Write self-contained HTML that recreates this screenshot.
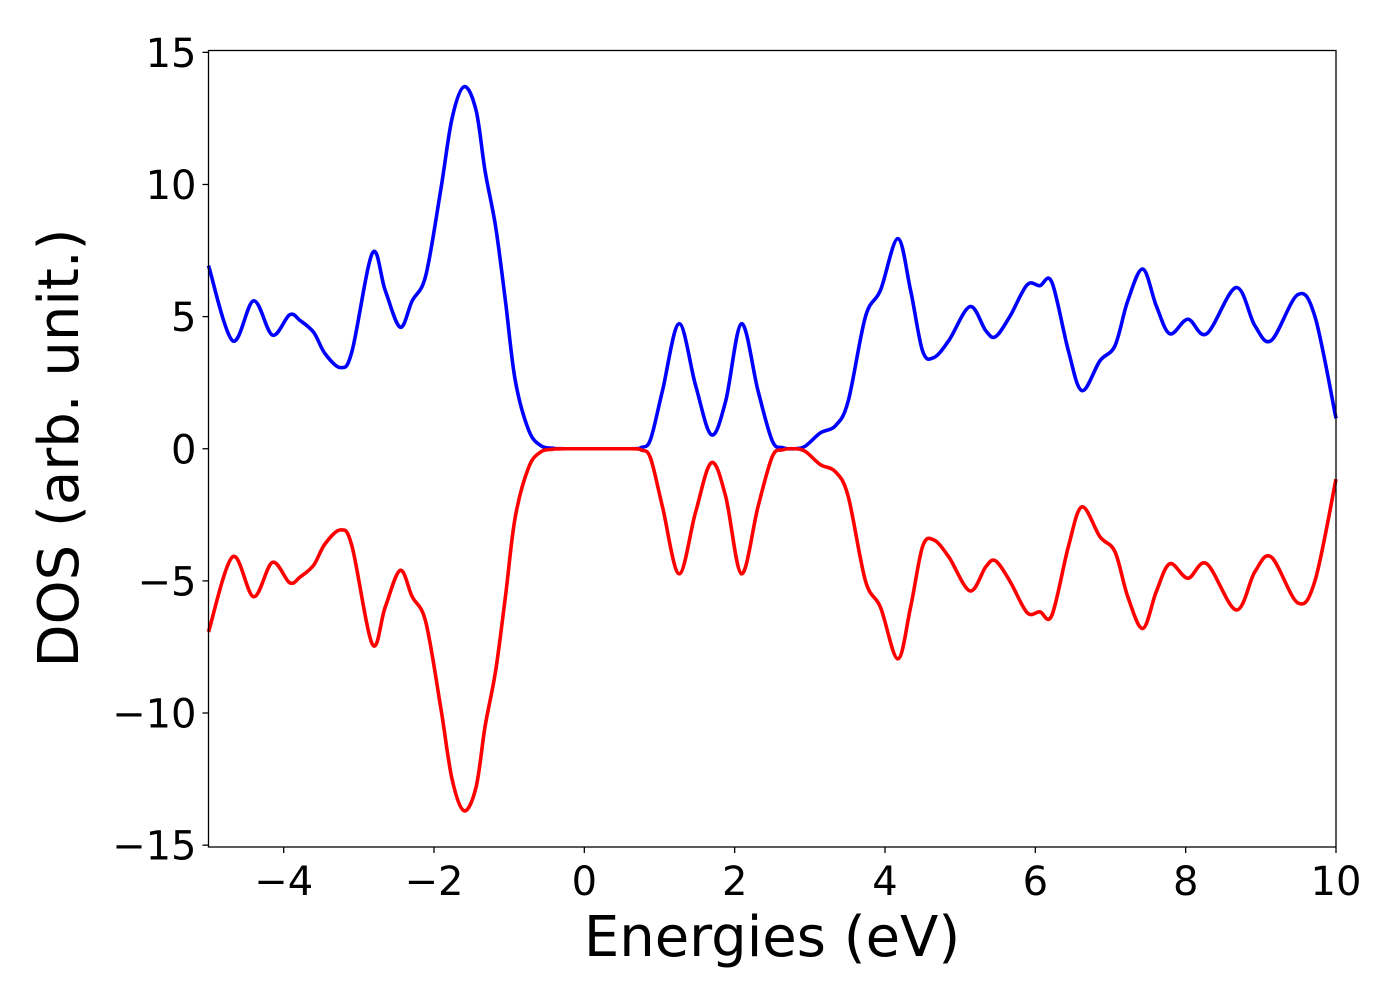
<!DOCTYPE html>
<html><head><meta charset="utf-8"><style>
body{margin:0;background:#fff}
svg{display:block;font-family:"DejaVu Sans","Liberation Sans",sans-serif}
</style></head><body>
<svg id="chart" width="1400" height="1000" viewBox="0 0 1400 1000" xmlns="http://www.w3.org/2000/svg">
<rect width="1400" height="1000" fill="#fff"/>
<g id="marks"></g>
<g id="axes"></g>
<text x="772" y="956" font-size="56" text-anchor="middle">Energies (eV)</text>
<text transform="translate(78,448) rotate(-90)" font-size="56" text-anchor="middle">DOS (arb. unit.)</text>
</svg>
<script>
const energies=[-5,-4.68,-4.40,-4.15,-3.92,-3.78,-3.60,-3.45,-3.24,-3.09,-2.82,-2.65,-2.45,-2.29,-2.11,-1.91,-1.76,-1.60,-1.44,-1.32,-1.18,-1.05,-0.92,-0.74,-0.58,-0.42,-0.25,0.6,0.76,0.88,1.04,1.26,1.48,1.69,1.88,2.09,2.31,2.50,2.64,2.80,2.94,3.14,3.34,3.51,3.74,3.94,4.17,4.34,4.50,4.65,4.85,5.13,5.34,5.47,5.66,5.89,6.06,6.22,6.44,6.62,6.86,7.06,7.23,7.43,7.61,7.79,8.03,8.28,8.67,8.92,9.14,9.49,9.72,10];
const spinUp=[6.93,4.09,5.6,4.3,5.07,4.85,4.4,3.6,3.07,3.7,7.4,6.0,4.6,5.6,6.55,9.8,12.5,13.7,12.8,10.5,8.4,5.6,2.6,0.7,0.12,0.02,0,0,0.05,0.35,2.2,4.73,2.4,0.53,1.8,4.73,2.2,0.3,0.04,0,0.1,0.6,0.87,1.8,5.0,6.0,7.95,6.0,3.7,3.45,4.1,5.38,4.47,4.24,5.0,6.2,6.17,6.3,3.7,2.2,3.33,3.9,5.6,6.8,5.4,4.35,4.9,4.35,6.1,4.66,4.1,5.83,5.0,1.15];
const spinDown=[-6.93,-4.09,-5.6,-4.3,-5.07,-4.85,-4.4,-3.6,-3.07,-3.7,-7.4,-6.0,-4.6,-5.6,-6.55,-9.8,-12.5,-13.7,-12.8,-10.5,-8.4,-5.6,-2.6,-0.7,-0.12,-0.02,0,0,-0.05,-0.35,-2.2,-4.73,-2.4,-0.53,-1.8,-4.73,-2.2,-0.3,-0.04,0,-0.1,-0.6,-0.87,-1.8,-5.0,-6.0,-7.95,-6.0,-3.7,-3.45,-4.1,-5.38,-4.47,-4.24,-5.0,-6.2,-6.17,-6.3,-3.7,-2.2,-3.33,-3.9,-5.6,-6.8,-5.4,-4.35,-4.9,-4.35,-6.1,-4.66,-4.1,-5.83,-5.0,-1.15];
const xTicks=[-4,-2,0,2,4,6,8,10];
const xTickLabels=["\u22124","\u22122","0","2","4","6","8","10"];
const yTicks=[-15,-10,-5,0,5,10,15];
const yTickLabels=["\u221215","\u221210","\u22125","0","5","10","15"];
const X0=208.5,X1=1336,Y0=50.5,Y1=847,xMin=-5,xMax=10,yMin=-15.07,yMax=15.07;
const sx=v=>X0+(v-xMin)/(xMax-xMin)*(X1-X0);
const sy=v=>Y1-(v-yMin)/(yMax-yMin)*(Y1-Y0);
const NS="http://www.w3.org/2000/svg";
function spline(xs,ys){
  const p=xs.map((x,i)=>[sx(x),sy(ys[i])]);
  let d="M"+p[0][0].toFixed(2)+","+p[0][1].toFixed(2);
  for(let i=0;i<p.length-1;i++){
    const a=p[i-1]||p[i],b=p[i],c=p[i+1],e=p[i+2]||c;
    const t=0.5/3;
    let c1y=b[1]+(c[1]-a[1])*t, c2y=c[1]-(e[1]-b[1])*t;
    if(b[1]===c[1]){c1y=b[1];c2y=c[1];}
    d+=" C"+(b[0]+(c[0]-a[0])*t).toFixed(2)+","+c1y.toFixed(2)+" "+(c[0]-(e[0]-b[0])*t).toFixed(2)+","+c2y.toFixed(2)+" "+c[0].toFixed(2)+","+c[1].toFixed(2);
  }
  return d;
}
const marks=document.getElementById('marks');
const up=document.createElementNS(NS,'path');


up.setAttribute('d',spline(energies,spinUp));
up.setAttribute('fill','none');up.setAttribute('stroke','#0000ff');up.setAttribute('stroke-width','3.6');
marks.appendChild(up);
const dn=document.createElementNS(NS,'path');


dn.setAttribute('d',spline(energies,spinDown));
dn.setAttribute('fill','none');dn.setAttribute('stroke','#ff0000');dn.setAttribute('stroke-width','3.6');
marks.appendChild(dn);
const axes=document.getElementById('axes');
const frame=document.createElementNS(NS,'rect');


frame.setAttribute('x',X0);frame.setAttribute('y',Y0);frame.setAttribute('width',X1-X0);frame.setAttribute('height',Y1-Y0);
frame.setAttribute('fill','none');frame.setAttribute('stroke','#000');frame.setAttribute('stroke-width','1.3');
axes.appendChild(frame);
xTicks.forEach((v,i)=>{
  const x=sx(v);
  const l=document.createElementNS(NS,'line');
  
  
  l.setAttribute('x1',x);l.setAttribute('x2',x);l.setAttribute('y1',Y1);l.setAttribute('y2',Y1+6);l.setAttribute('stroke','#000');l.setAttribute('stroke-width','1.3');
  axes.appendChild(l);
  const t=document.createElementNS(NS,'text');
  
  
  t.setAttribute('x',x);t.setAttribute('y',Y1+48);t.setAttribute('font-size','40');t.setAttribute('text-anchor','middle');
  t.textContent=xTickLabels[i];
  axes.appendChild(t);
});
yTicks.forEach((v,i)=>{
  const y=sy(v);
  const l=document.createElementNS(NS,'line');
  
  
  l.setAttribute('x1',X0-6);l.setAttribute('x2',X0);l.setAttribute('y1',y);l.setAttribute('y2',y);l.setAttribute('stroke','#000');l.setAttribute('stroke-width','1.3');
  axes.appendChild(l);
  const t=document.createElementNS(NS,'text');
  
  
  t.setAttribute('x',X0-12);t.setAttribute('y',y+14.5);t.setAttribute('font-size','40');t.setAttribute('text-anchor','end');
  t.textContent=yTickLabels[i];
  axes.appendChild(t);
});
</script>
</body></html>
